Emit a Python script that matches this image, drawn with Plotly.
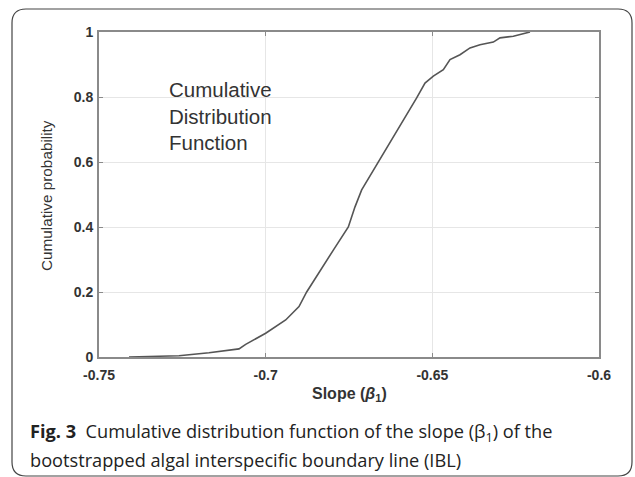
import plotly.graph_objects as go

# Data
slope = [-0.741, -0.733, -0.726, -0.717, -0.708, -0.706, -0.700, -0.694, -0.690,
         -0.6877, -0.6827, -0.6797, -0.6752, -0.6732, -0.6712, -0.6682, -0.6657,
         -0.6617, -0.6582, -0.6547, -0.6522, -0.6497, -0.6467, -0.6447, -0.6417,
         -0.6387, -0.6357, -0.6317, -0.6297, -0.6257, -0.6207]
cum_prob = [0.0, 0.001, 0.004, 0.013, 0.025, 0.039, 0.073, 0.114, 0.155,
            0.200, 0.278, 0.329, 0.400, 0.462, 0.514, 0.565, 0.610,
            0.674, 0.735, 0.797, 0.843, 0.864, 0.884, 0.915, 0.930,
            0.951, 0.961, 0.969, 0.982, 0.987, 1.0]
x_ticks = [-0.75, -0.7, -0.65, -0.6]
x_tick_text = ["-0.75", "-0.7", "-0.65", "-0.6"]
y_ticks = [0, 0.2, 0.4, 0.6, 0.8, 1]
y_tick_text = ["0", "0.2", "0.4", "0.6", "0.8", "1"]

W, H = 635, 477
L, R, T, B = 99, 599, 32, 357  # plot area in pixels


def px(x):
    return (x - L) / (R - L)


def py(y):
    return (B - y) / (B - T)


def rounded_rect(x0, y0, x1, y1, r):
    return (f"M {px(x0 + r)},{py(y0)} L {px(x1 - r)},{py(y0)} "
            f"Q {px(x1)},{py(y0)} {px(x1)},{py(y0 + r)} "
            f"L {px(x1)},{py(y1 - r)} Q {px(x1)},{py(y1)} {px(x1 - r)},{py(y1)} "
            f"L {px(x0 + r)},{py(y1)} Q {px(x0)},{py(y1)} {px(x0)},{py(y1 - r)} "
            f"L {px(x0)},{py(y0 + r)} Q {px(x0)},{py(y0)} {px(x0 + r)},{py(y0)} Z")


fig = go.Figure()
fig.add_trace(go.Scatter(x=slope, y=cum_prob, mode="lines",
                         line=dict(color="#555555", width=1.6),
                         showlegend=False, hoverinfo="skip"))

tick_font = dict(family="Liberation Sans, Arial", size=14, color="#333333", weight="bold")
axis_common = dict(showline=True, linecolor="#8a8a8a", linewidth=2, mirror="ticks",
                   ticks="inside", ticklen=4, tickcolor="#8a8a8a",
                   showgrid=True, gridcolor="#e6e6e6", gridwidth=1, zeroline=False,
                   tickfont=tick_font)

fig.update_layout(
    width=W, height=H,
    margin=dict(l=L, r=W - R, t=T, b=H - B),
    paper_bgcolor="white", plot_bgcolor="white",
    xaxis=dict(range=[-0.75, -0.6], tickvals=x_ticks, ticktext=x_tick_text,
               ticklabelstandoff=4, **axis_common),
    yaxis=dict(range=[0, 1], tickvals=y_ticks, ticktext=y_tick_text,
               ticklabelstandoff=1, **axis_common),
    shapes=[dict(type="path", xref="paper", yref="paper",
                 path=rounded_rect(12, 9, 632, 476, 14),
                 line=dict(color="#444444", width=1.2))],
)

ann_font = dict(family="Liberation Sans, Arial", color="#333333")
fig.add_annotation(xref="paper", yref="paper", x=px(167), y=py(76), xanchor="left", yanchor="top",
                   text="Cumulative<br>Distribution<br>Function", showarrow=False, align="left",
                   font=dict(size=20.5, **ann_font))
fig.add_annotation(xref="paper", yref="paper", x=px(349), y=py(394), xanchor="center", yanchor="middle",
                   text="Slope (<i>β</i><sub>1</sub>)", showarrow=False,
                   font=dict(size=16, weight="bold", **ann_font))
fig.add_annotation(xref="paper", yref="paper", x=px(46), y=py(196), xanchor="center", yanchor="middle",
                   text="Cumulative probability", showarrow=False, textangle=-90,
                   font=dict(size=15.3, **ann_font))

cap_font = dict(family="Open Sans, Noto Sans", size=18.2, color="#222222")
fig.add_annotation(xref="paper", yref="paper", x=px(28), y=py(432), xanchor="left", yanchor="middle",
                   text="<b>Fig. 3</b>  Cumulative distribution function of the slope (β<sub>1</sub>) of the",
                   showarrow=False, font=cap_font)
fig.add_annotation(xref="paper", yref="paper", x=px(28), y=py(460), xanchor="left", yanchor="middle",
                   text="bootstrapped algal interspecific boundary line (IBL)",
                   showarrow=False, font=cap_font)

fig.write_html("out.html")
